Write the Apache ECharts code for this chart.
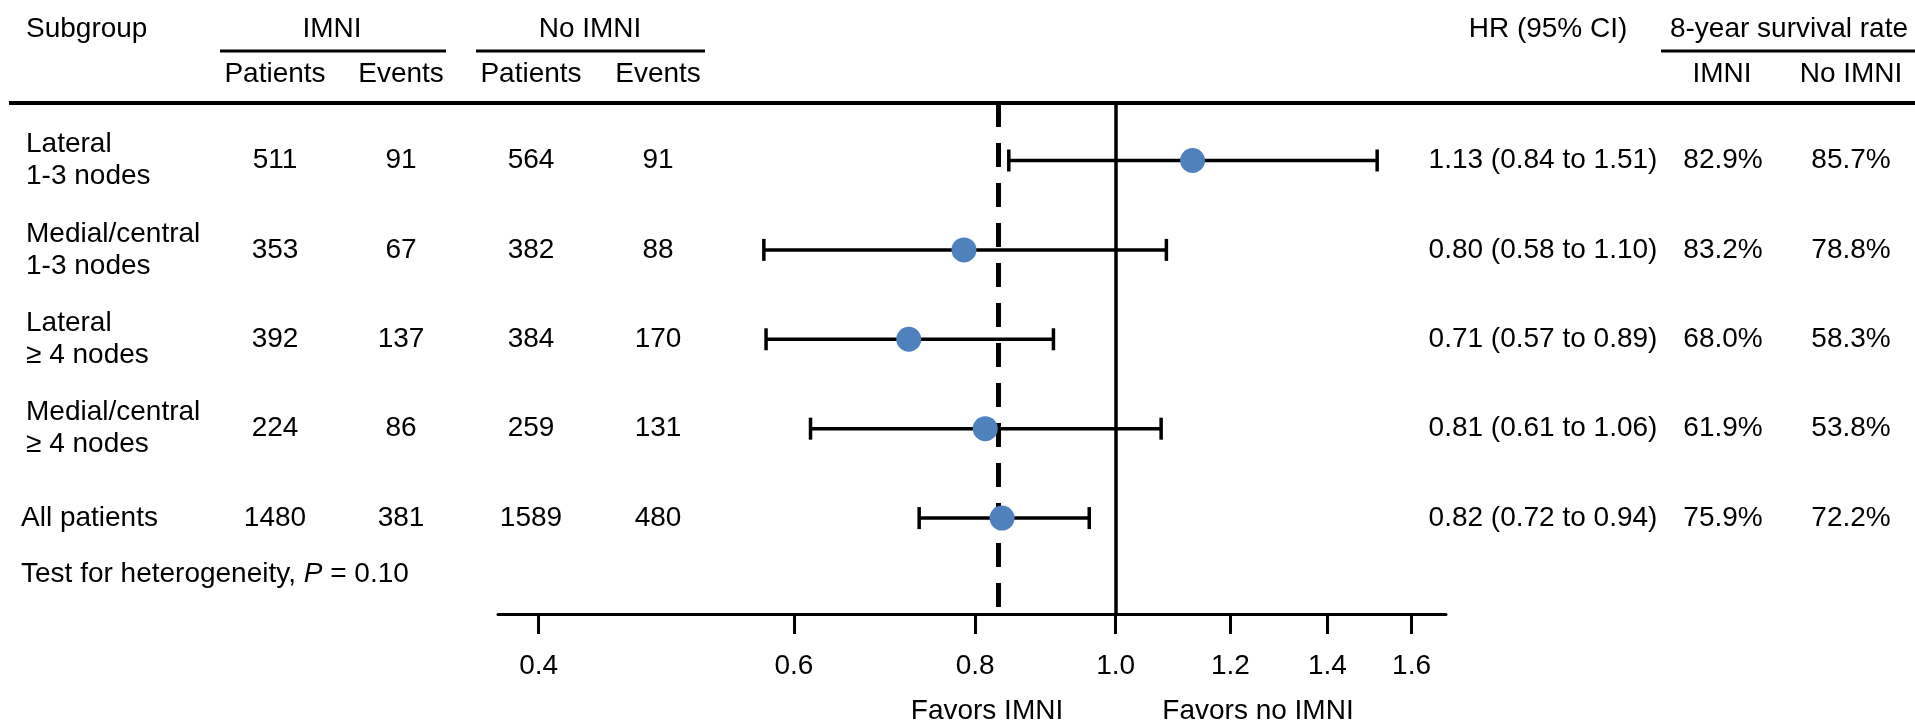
<!DOCTYPE html>
<html>
<head>
<meta charset="utf-8">
<script src="https://cdn.jsdelivr.net/npm/echarts@6/dist/echarts.min.js"></script>
<style>
html,body{margin:0;padding:0;background:#fff;}
#chart{width:1915px;height:723px;}
</style>
</head>
<body>
<div id="chart"></div>
<script>
// ---------------- DATA ----------------
const subgroups = ['Lateral\n1-3 nodes', 'Medial/central\n1-3 nodes', 'Lateral\n≥ 4 nodes', 'Medial/central\n≥ 4 nodes', 'All patients'];
const imniPatients = [511, 353, 392, 224, 1480];
const imniEvents = [91, 67, 137, 86, 381];
const noImniPatients = [564, 382, 384, 259, 1589];
const noImniEvents = [91, 88, 170, 131, 480];
// stated hazard ratios (text column)
const hrValues = [1.13, 0.80, 0.71, 0.81, 0.82];
const hrLow = [0.84, 0.58, 0.57, 0.61, 0.72];
const hrHigh = [1.51, 1.10, 0.89, 1.06, 0.94];
// marks as drawn in the figure
const markHR = [1.13, 0.786, 0.72, 0.813, 0.835];
const markLow = [0.844, 0.572, 0.574, 0.616, 0.732];
const markHigh = [1.515, 1.084, 0.906, 1.075, 0.959];
const overallLine = 0.834;
const survImni = ['82.9%', '83.2%', '68.0%', '61.9%', '75.9%'];
const survNoImni = ['85.7%', '78.8%', '58.3%', '53.8%', '72.2%'];
const axisTicks = [0.4, 0.6, 0.8, 1.0, 1.2, 1.4, 1.6];
const heterogeneity = { label: 'Test for heterogeneity, ', p: 'P', value: ' = 0.10' };

// ---------------- LAYOUT ----------------
const FONT = "'Liberation Sans', Arial, sans-serif";
const FS = 28;
const TOP = 103, PLOT_H = 511;
const Y_MIN = -0.643, Y_MAX = 5.073;
const subgroupX = [26, 26, 26, 26, 21];
const colX = { ip: 275, ie: 401, np: 531, ne: 658, hr: 1543, si: 1723, sn: 1851 };

const textStyle = { fontFamily: FONT, fontSize: FS, color: '#000', lineHeight: 32 };

function textSeries(x, values, align) {
  return {
    type: 'scatter', xAxisIndex: 0, yAxisIndex: 0, symbolSize: 0, silent: true,
    itemStyle: { opacity: 1 },
    data: values.map((v, i) => [Array.isArray(x) ? x[i] : x, i, String(v)]),
    label: Object.assign({
      show: true,
      position: align === 'left' ? 'right' : 'inside',
      distance: 0,
      align: align || 'center',
      verticalAlign: 'middle',
      opacity: 1,
      formatter: p => p.data[2]
    }, textStyle)
  };
}

const fmt = v => v.toFixed(2);
const hrStrings = hrValues.map((v, i) => `${fmt(v)} (${fmt(hrLow[i])} to ${fmt(hrHigh[i])})`);

function gText(text, x, y, align) {
  return { type: 'text', x: x, y: y, silent: true,
    style: { text: text, fontFamily: FONT, fontSize: FS, fill: '#000', align: align || 'center', verticalAlign: 'middle' } };
}
function gLine(x1, y1, x2, y2, w) {
  return { type: 'line', silent: true, shape: { x1, y1, x2, y2 }, style: { stroke: '#000', lineWidth: w } };
}

const chart = echarts.init(document.getElementById('chart'), null, { renderer: 'canvas' });

const option = {
  animation: false,
  backgroundColor: '#fff',
  grid: [
    { left: 0, top: TOP, width: 1915, height: PLOT_H },
    { left: 498, top: TOP, width: 948, height: PLOT_H }
  ],
  xAxis: [
    { gridIndex: 0, type: 'value', min: 0, max: 1915, show: false },
    {
      gridIndex: 1, type: 'log', logBase: 10, min: 0.375, max: 1.69,
      axisLine: { show: true, onZero: false, lineStyle: { color: '#000', width: 3 } },
      axisTick: { show: true, customValues: axisTicks, length: 20, lineStyle: { color: '#000', width: 3 } },
      axisLabel: { show: true, customValues: axisTicks, margin: 38, formatter: v => Number(v).toFixed(1),
        fontFamily: FONT, fontSize: FS, color: '#000' },
      splitLine: { show: false },
      minorTick: { show: false }
    }
  ],
  yAxis: [
    { gridIndex: 0, type: 'value', min: Y_MIN, max: Y_MAX, inverse: true, show: false },
    { gridIndex: 1, type: 'value', min: Y_MIN, max: Y_MAX, inverse: true, show: false }
  ],
  graphic: [
    gLine(9, 103, 1915, 103, 4),
    gLine(220, 51, 446, 51, 3),
    gLine(476, 51, 705, 51, 3),
    gLine(1661, 51, 1915, 51, 3),
    gText('Subgroup', 26, 29, 'left'),
    gText('IMNI', 332, 29),
    gText('No IMNI', 590, 29),
    gText('HR (95% CI)', 1548, 29),
    gText('8-year survival rate', 1789, 29),
    gText('Patients', colX.ip, 74),
    gText('Events', colX.ie, 74),
    gText('Patients', colX.np, 74),
    gText('Events', colX.ne, 74),
    gText('IMNI', 1722, 74),
    gText('No IMNI', 1851, 74),
    gText('Favors IMNI', 987, 711),
    gText('Favors no IMNI', 1258, 711),
    { type: 'text', x: 21, y: 574, silent: true,
      style: { text: '{n|' + heterogeneity.label + '}{i|' + heterogeneity.p + '}{n|' + heterogeneity.value + '}',
        verticalAlign: 'middle', align: 'left',
        rich: { n: { fontFamily: FONT, fontSize: FS, fill: '#000' }, i: { fontFamily: FONT, fontSize: FS, fontStyle: 'italic', fill: '#000' } } } }
  ],
  series: [
    textSeries(subgroupX, subgroups, 'left'),
    textSeries(colX.ip, imniPatients),
    textSeries(colX.ie, imniEvents),
    textSeries(colX.np, noImniPatients),
    textSeries(colX.ne, noImniEvents),
    textSeries(colX.hr, hrStrings),
    textSeries(colX.si, survImni),
    textSeries(colX.sn, survNoImni),
    // reference line at HR = 1
    {
      type: 'scatter', xAxisIndex: 1, yAxisIndex: 1, data: [], z: 2, silent: true,
      markLine: { silent: true, symbol: 'none', label: { show: false },
        lineStyle: { color: '#000', width: 3.5, type: 'solid', opacity: 1 },
        data: [{ xAxis: 1 }] }
    },
    // confidence intervals
    {
      type: 'custom', xAxisIndex: 1, yAxisIndex: 1, z: 3, silent: true,
      data: markHR.map((v, i) => [markLow[i], markHigh[i], i]),
      encode: { x: [0, 1], y: 2 },
      renderItem: function (params, api) {
        const y = api.value(2);
        const p1 = api.coord([api.value(0), y]);
        const p2 = api.coord([api.value(1), y]);
        const h = 11;
        const st = { stroke: '#000', lineWidth: 3.5 };
        return { type: 'group', children: [
          { type: 'line', shape: { x1: p1[0], y1: p1[1], x2: p2[0], y2: p2[1] }, style: st },
          { type: 'line', shape: { x1: p1[0], y1: p1[1] - h, x2: p1[0], y2: p1[1] + h }, style: st },
          { type: 'line', shape: { x1: p2[0], y1: p2[1] - h, x2: p2[0], y2: p2[1] + h }, style: st }
        ] };
      }
    },
    // point estimates
    {
      type: 'scatter', xAxisIndex: 1, yAxisIndex: 1, z: 5, silent: true,
      symbol: 'circle', symbolSize: 25,
      itemStyle: { color: '#4F81BD', opacity: 1 },
      data: markHR.map((v, i) => [v, i])
    },
    // overall dashed line
    {
      type: 'scatter', xAxisIndex: 1, yAxisIndex: 1, data: [], z: 10, silent: true,
      markLine: { silent: true, symbol: 'none', label: { show: false },
        lineStyle: { color: '#000', width: 5, type: [24, 16], opacity: 1 },
        data: [{ xAxis: overallLine }] }
    }
  ]
};
chart.setOption(option);
</script>
</body>
</html>
